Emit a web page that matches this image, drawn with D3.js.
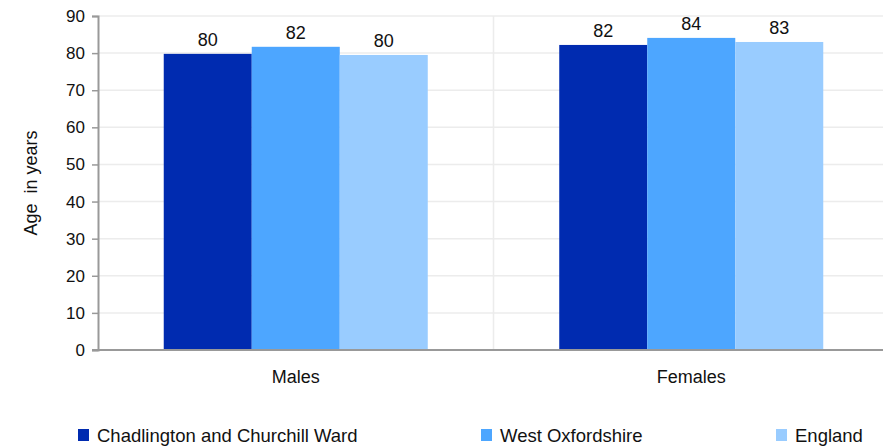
<!DOCTYPE html>
<html>
<head>
<meta charset="utf-8">
<script src="https://cdn.jsdelivr.net/npm/d3@7"></script>
<style>
  body { margin: 0; background: #fff; overflow: hidden; }
  svg text { font-family: "Liberation Sans", Arial, sans-serif; fill: #111; }
</style>
</head>
<body>
<div id="chart"></div>
<script>
"use strict";

const categories = ["Males", "Females"];
const seriesNames = ["Chadlington and Churchill Ward", "West Oxfordshire", "England"];
const seriesColors = ["#002BB0", "#4DA6FF", "#99CCFF"];
// actual values (bar heights) and the rounded labels shown on top
const values = [
  [79.8, 82.2],
  [81.7, 84.1],
  [79.5, 83.0]
];
const labels = [
  ["80", "82"],
  ["82", "84"],
  ["80", "83"]
];
const yTicks = [0, 10, 20, 30, 40, 50, 60, 70, 80, 90];

const width = 883, height = 447;
// plot area runs a little past the right edge of the picture
const margin = { top: 16, right: -6, bottom: 97, left: 98 };

const svg = d3.select("#chart")
  .append("svg")
  .attr("width", width)
  .attr("height", height);

const x = d3.scaleBand()
  .domain(categories)
  .range([margin.left, width - margin.right])
  .paddingInner(0)
  .paddingOuter(0);

const xInner = d3.scaleBand()
  .domain(d3.range(seriesNames.length))
  .range([0, x.bandwidth()])
  .paddingOuter(0.747)
  .paddingInner(0);

const y = d3.scaleLinear()
  .domain([0, 90])
  .range([height - margin.bottom, margin.top]);

// gridlines
svg.append("g")
  .selectAll("line")
  .data(yTicks.filter(d => d > 0))
  .enter()
  .append("line")
  .attr("x1", margin.left)
  .attr("x2", width - margin.right)
  .attr("y1", d => y(d))
  .attr("y2", d => y(d))
  .attr("stroke", "#ececec")
  .attr("stroke-width", 1.5);

// separator between categories
svg.append("line")
  .attr("x1", x("Females"))
  .attr("x2", x("Females"))
  .attr("y1", margin.top)
  .attr("y2", y(0))
  .attr("stroke", "#ececec")
  .attr("stroke-width", 1.5);

// bars
const groups = svg.append("g")
  .selectAll("g")
  .data(seriesNames)
  .enter()
  .append("g")
  .attr("fill", (d, i) => seriesColors[i]);

groups.each(function (name, si) {
  const g = d3.select(this);
  g.selectAll("rect")
    .data(categories)
    .enter()
    .append("rect")
    .attr("x", c => x(c) + xInner(si))
    .attr("width", xInner.bandwidth())
    .attr("y", (c, ci) => y(values[si][ci]))
    .attr("height", (c, ci) => y(0) - y(values[si][ci]));

  g.selectAll("text")
    .data(categories)
    .enter()
    .append("text")
    .attr("x", c => x(c) + xInner(si) + xInner.bandwidth() / 2)
    .attr("y", (c, ci) => y(values[si][ci]) - 8)
    .attr("text-anchor", "middle")
    .style("font-size", "18px")
    .text((c, ci) => labels[si][ci]);
});

// y axis
const yAxis = svg.append("g")
  .attr("transform", `translate(${margin.left},0)`)
  .call(d3.axisLeft(y).tickValues(yTicks).tickSize(6).tickPadding(7));
yAxis.select(".domain").attr("stroke", "#999").attr("stroke-width", 2);
yAxis.selectAll(".tick line").attr("stroke", "#999").attr("stroke-width", 1.5);
yAxis.selectAll(".tick text")
  .style("font-size", "17px")
  .style("font-family", "'Liberation Sans', Arial, sans-serif")
  .attr("fill", "#111");

// x axis baseline
svg.append("line")
  .attr("x1", margin.left - 6)
  .attr("x2", width)
  .attr("y1", y(0))
  .attr("y2", y(0))
  .attr("stroke", "#999")
  .attr("stroke-width", 2);

// category labels
svg.append("g")
  .selectAll("text")
  .data(categories)
  .enter()
  .append("text")
  .attr("x", d => x(d) + x.bandwidth() / 2)
  .attr("y", y(0) + 33)
  .attr("text-anchor", "middle")
  .style("font-size", "18px")
  .text(d => d);

// y axis title
svg.append("text")
  .attr("transform", `translate(37,${(y(0) + y(90)) / 2}) rotate(-90)`)
  .attr("text-anchor", "middle")
  .style("font-size", "18px")
  .attr("xml:space", "preserve")
  .text("Age  in years");

// legend
const legendX = [78, 481, 776];
const legend = svg.append("g")
  .selectAll("g")
  .data(seriesNames)
  .enter()
  .append("g")
  .attr("transform", (d, i) => `translate(${legendX[i]},442)`);

legend.append("rect")
  .attr("x", 0)
  .attr("y", -13)
  .attr("width", 11)
  .attr("height", 12)
  .attr("fill", (d, i) => seriesColors[i]);

legend.append("text")
  .attr("x", 19)
  .attr("y", 0)
  .style("font-size", "18.5px")
  .text(d => d);
</script>
</body>
</html>
